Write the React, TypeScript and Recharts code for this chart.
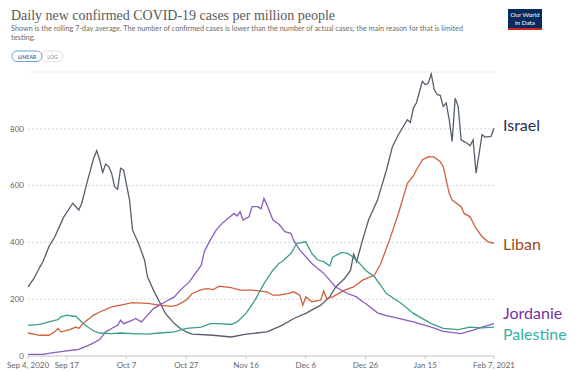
import { LineChart, Line, XAxis, YAxis, CartesianGrid } from "recharts";

// days counted from Sep 4, 2020
const tickDays = [0, 13, 33, 53, 73, 93, 113, 133, 156];
const tickLabels = ["Sep 4, 2020", "Sep 17", "Oct 7", "Oct 27", "Nov 16", "Dec 6", "Dec 26", "Jan 15", "Feb 7, 2021"];
const yTicks = [0, 200, 400, 600, 800];

const israelDays = [0, 2, 4, 5, 7, 9, 11, 12, 15, 17, 18, 20, 22, 23, 24, 25, 26, 27, 28, 29, 30, 31, 32, 34, 35, 37, 39, 40, 42, 44, 46, 49, 51, 53, 55, 62, 68, 73, 80, 85, 89, 93, 98, 101, 103, 106, 108, 109, 110, 112, 114, 117, 120, 122, 124, 127, 128, 129, 130, 132, 133, 134, 135, 136, 137, 138, 139, 140, 141, 142, 143, 144, 145, 146, 147, 148, 149, 150, 152, 153, 155, 156];
const israel = [243, 273, 314, 332, 385, 420, 467, 490, 538, 514, 538, 620, 697, 723, 690, 646, 676, 667, 643, 596, 587, 661, 655, 549, 443, 397, 338, 279, 232, 191, 150, 114, 97, 85, 77, 73, 67, 77, 85, 108, 132, 150, 179, 208, 243, 273, 302, 359, 332, 408, 479, 549, 655, 737, 779, 832, 822, 873, 891, 967, 955, 961, 993, 938, 920, 918, 879, 891, 832, 755, 908, 879, 761, 755, 749, 740, 761, 644, 779, 771, 773, 802];

const libanDays = [0, 4, 7, 9, 10, 11, 14, 16, 17, 19, 22, 24, 28, 31, 35, 40, 44, 48, 50, 53, 55, 58, 60, 62, 64, 68, 71, 75, 80, 82, 84, 87, 89, 91, 92, 93, 95, 96, 98, 99, 100, 102, 106, 109, 112, 116, 118, 121, 124, 127, 129, 130, 132, 134, 136, 138, 139, 141, 142, 145, 146, 148, 150, 152, 154, 156];
const liban = [81, 73, 73, 85, 97, 85, 93, 102, 97, 120, 144, 155, 173, 179, 188, 185, 179, 175, 179, 197, 220, 234, 237, 234, 246, 241, 232, 232, 226, 214, 214, 220, 226, 214, 179, 208, 191, 193, 197, 229, 202, 208, 232, 243, 267, 285, 323, 408, 502, 608, 634, 655, 690, 702, 700, 684, 667, 573, 549, 526, 502, 490, 449, 420, 402, 397];

const jordanieDays = [0, 5, 8, 13, 16, 17, 21, 24, 26, 28, 30, 31, 32, 35, 36, 38, 40, 42, 44, 46, 49, 51, 54, 56, 58, 59, 61, 63, 65, 67, 69, 70, 71, 72, 74, 75, 77, 78, 79, 80, 82, 84, 86, 88, 89, 91, 95, 99, 101, 103, 107, 110, 112, 113, 117, 120, 123, 129, 135, 139, 145, 149, 152, 156];
const jordanie = [6, 6, 11, 18, 22, 23, 41, 58, 85, 97, 108, 126, 114, 126, 132, 120, 144, 167, 179, 191, 208, 232, 261, 291, 320, 367, 408, 443, 467, 485, 502, 493, 508, 479, 490, 526, 526, 518, 555, 532, 479, 464, 438, 432, 405, 373, 326, 291, 267, 243, 220, 208, 191, 185, 152, 142, 135, 120, 102, 87, 79, 91, 102, 114];

const palestineDays = [0, 4, 7, 10, 11, 13, 15, 16, 18, 20, 22, 24, 28, 31, 35, 40, 44, 49, 53, 58, 61, 64, 68, 70, 73, 76, 79, 82, 84, 85, 88, 90, 93, 95, 97, 99, 101, 102, 105, 107, 109, 111, 113, 116, 120, 125, 129, 135, 139, 144, 148, 152, 156];
const palestine = [108, 111, 120, 128, 138, 144, 140, 140, 120, 102, 88, 81, 79, 81, 79, 77, 81, 85, 97, 102, 114, 114, 111, 120, 150, 197, 255, 302, 326, 332, 361, 397, 402, 361, 338, 332, 317, 348, 365, 361, 347, 326, 302, 279, 220, 185, 150, 114, 97, 93, 102, 99, 102];

const toPoints = (days: number[], values: number[]) =>
  days.map((day, i) => ({ day, value: values[i] }));

const series = [
  { name: "Israel", data: toPoints(israelDays, israel), color: "#565e6c", labelColor: "#1f2f5c", labelY: 131 },
  { name: "Liban", data: toPoints(libanDays, liban), color: "#d0613c", labelColor: "#9b4a1c", labelY: 250 },
  { name: "Jordanie", data: toPoints(jordanieDays, jordanie), color: "#8b5cbf", labelColor: "#7331a3", labelY: 319 },
  { name: "Palestine", data: toPoints(palestineDays, palestine), color: "#3a9e8c", labelColor: "#36b3a4", labelY: 340 },
];

const axisFont = { fontFamily: "Lato", fontSize: 8, fill: "#666" };

export default function App() {
  return (
    <div style={{ position: "absolute", left: 0, top: 0, width: 580, height: 372, background: "#fff" }}>
      <LineChart width={580} height={372} margin={{ top: 72, right: 86, bottom: 0, left: 0 }}>
        <CartesianGrid vertical={false} stroke="#d9d9d9" strokeDasharray="2 2" />
        <XAxis
          dataKey="day"
          type="number"
          domain={[0, 156]}
          ticks={tickDays}
          interval={0}
          tickFormatter={(d: number) => tickLabels[tickDays.indexOf(d)]}
          height={16}
          tickSize={3}
          tickMargin={3}
          stroke="#ccc"
          tick={axisFont}
          allowDuplicatedCategory={false}
        />
        <YAxis
          type="number"
          domain={[0, 1000]}
          ticks={yTicks}
          width={28}
          axisLine={false}
          tickLine={false}
          tickSize={0}
          tickMargin={4}
          tick={axisFont}
        />
        {series.map((s) => (
          <Line
            key={s.name}
            data={s.data}
            dataKey="value"
            type="linear"
            stroke={s.color}
            strokeWidth={1.3}
            dot={false}
            isAnimationActive={false}
          />
        ))}
      </LineChart>

      <svg width={580} height={372} style={{ position: "absolute", left: 0, top: 0, pointerEvents: "none" }}>
        <text x={11} y={20} fontFamily="Liberation Serif" fontSize={14.5} fill="#5a5a5a" textLength={324} lengthAdjust="spacingAndGlyphs">
          Daily new confirmed COVID-19 cases per million people
        </text>
        <text x={11} y={31} fontFamily="Lato" fontSize={7.5} fill="#6b6b6b" textLength={452} lengthAdjust="spacingAndGlyphs">
          Shown is the rolling 7-day average. The number of confirmed cases is lower than the number of actual cases; the main reason for that is limited
        </text>
        <text x={11} y={39.5} fontFamily="Lato" fontSize={7.5} fill="#6b6b6b">
          testing.
        </text>

        {/* LINEAR / LOG toggle */}
        <rect x={41.5} y={51} width={21.5} height={10.5} rx={5} fill="#fff" stroke="#ddd" strokeWidth={0.8} />
        <rect x={12} y={51} width={30} height={10.5} rx={5} fill="#fff" stroke="#6f9fd8" strokeWidth={1} />
        <text x={27} y={58.6} textAnchor="middle" fontFamily="Lato" fontWeight={700} fontSize={5.2} fill="#3d6fb6">LINEAR</text>
        <text x={52.5} y={58.6} textAnchor="middle" fontFamily="Lato" fontSize={5.2} fill="#888">LOG</text>

        {/* logo */}
        <rect x={508} y={9} width={34} height={19} fill="#0b2a5c" />
        <rect x={508} y={28} width={34} height={2} fill="#ce261e" />
        <text x={525} y={17} textAnchor="middle" fontFamily="Lato" fontSize={6.3} fill="#fff">Our World</text>
        <text x={525} y={25} textAnchor="middle" fontFamily="Lato" fontSize={6.3} fill="#fff">in Data</text>

        {series.map((s) => (
          <text key={s.name} x={503} y={s.labelY} fontFamily="Lato" fontSize={16} fill={s.labelColor}>
            {s.name}
          </text>
        ))}
      </svg>
    </div>
  );
}
